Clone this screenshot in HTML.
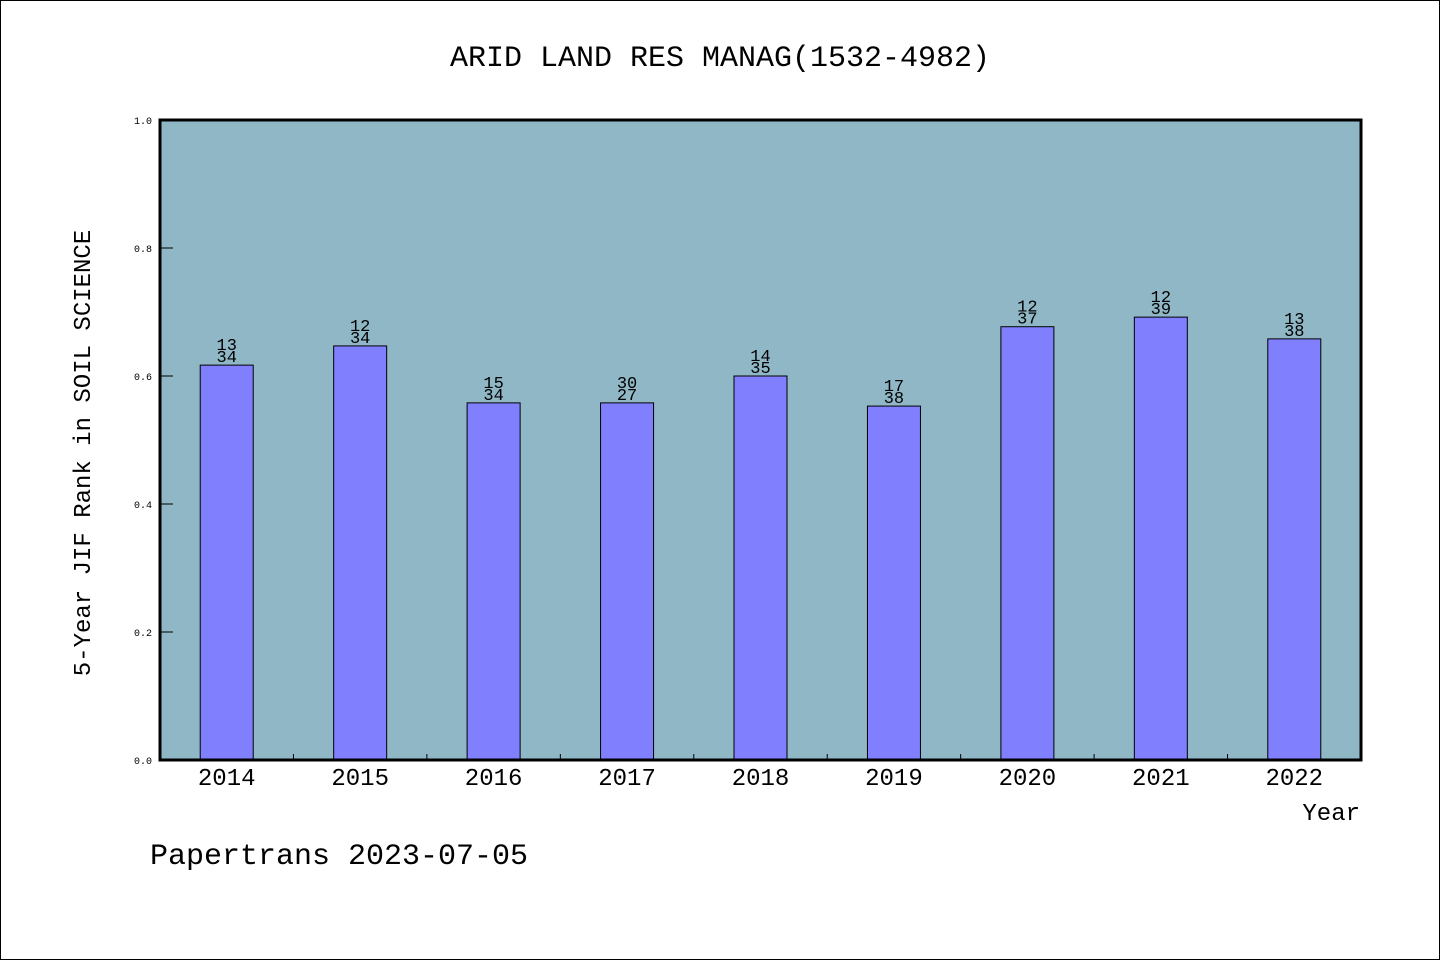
<!DOCTYPE html>
<html><head><meta charset="utf-8"><style>
body{margin:0;background:#fff}
svg{display:block}
text{font-family:"Liberation Mono","DejaVu Sans Mono",monospace;fill:#000}
</style></head><body>
<svg width="1440" height="960" xmlns="http://www.w3.org/2000/svg">
<rect x="0.5" y="0.5" width="1439" height="959" fill="#fff" stroke="#000"/>
<text x="720" y="66" font-size="30" text-anchor="middle">ARID LAND RES MANAG(1532-4982)</text>
<rect x="160" y="120" width="1201" height="640" fill="#8fb7c6"/>
<g id="bars"></g>
<g id="axes"></g>
<rect x="160" y="120" width="1201" height="640" fill="none" stroke="#000" stroke-width="3"/>
<text x="90" y="453" font-size="24" text-anchor="middle" transform="rotate(-90 90 453)">5-Year JIF Rank in SOIL SCIENCE</text>
<text x="1360" y="820" font-size="24" text-anchor="end">Year</text>
<text x="150" y="864" font-size="30">Papertrans 2023-07-05</text>
</svg>
<script>
const categories=["2014","2015","2016","2017","2018","2019","2020","2021","2022"];
const values=[0.617,0.647,0.558,0.558,0.600,0.553,0.677,0.692,0.658];
const ranks=["13","12","15","30","14","17","12","12","13"];
const totals=["34","34","34","27","35","38","37","39","38"];
const yTicks=[0,0.2,0.4,0.6,0.8,1.0];
const NS="http://www.w3.org/2000/svg";
const X0=160,W=1201,Y0=760,H=640;
const bw=W/categories.length;
const y=v=>Y0-v*H;
const x=i=>X0+bw*(i+0.5);
const bars=document.getElementById('bars'),axes=document.getElementById('axes');
function mk(tag,attrs,parent,txt){const e=document.createElementNS(NS,tag);for(const k in attrs)e.setAttribute(k,attrs[k]);if(txt!==undefined)e.textContent=txt;parent.appendChild(e);return e;}
categories.forEach((c,i)=>{
 const r=mk('rect',{x:x(i)-26.5,y:y(values[i]),width:53,height:Y0-y(values[i]),fill:'#8080ff',stroke:'#000','stroke-width':1},bars);
 
 
 const t1=mk('text',{x:x(i),y:y(values[i])-15,'font-size':17,'text-anchor':'middle'},bars,ranks[i]);
 
 
 const t2=mk('text',{x:x(i),y:y(values[i])-3,'font-size':17,'text-anchor':'middle'},bars,totals[i]);
 
 
 const xl=mk('text',{x:x(i),y:785,'font-size':24,'text-anchor':'middle'},axes,c);
 
 
 if(i>0){const tk=mk('line',{x1:X0+bw*i,x2:X0+bw*i,y1:Y0,y2:Y0-6,stroke:'#000'},axes);
 
 }
});
yTicks.forEach(v=>{
 const tk=mk('line',{x1:X0,x2:X0+13,y1:y(v),y2:y(v),stroke:'#000'},axes);
 
 
 const l=mk('text',{x:152,y:y(v)+4,'font-size':10,'text-anchor':'end'},axes,v.toFixed(1));
 
 
});
</script>
</body></html>
